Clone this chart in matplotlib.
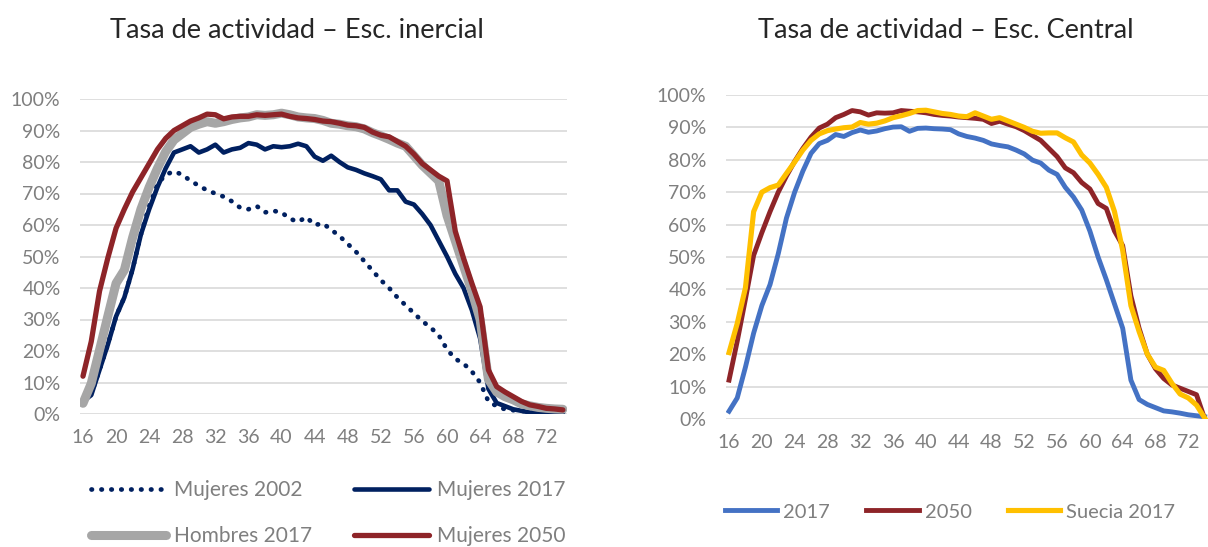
import matplotlib
matplotlib.use("Agg")
import matplotlib.pyplot as plt
import numpy as np

plt.rcParams['font.family'] = ['Lato', 'DejaVu Sans']

ages = list(range(16, 75))
age_ticks = list(range(16, 73, 4))
pct_ticks = [0, 0.1, 0.2, 0.3, 0.4, 0.5, 0.6, 0.7, 0.8, 0.9, 1.0]

# panel izquierdo - escenario inercial (%)
mujeres_2002 = [4, 6.5, 14, 22, 31, 37, 46, 57, 66, 73, 76, 77, 76, 74, 72.5, 71, 70, 69, 67.5, 65.5,
                65, 66, 64, 64.5, 64, 62, 61, 62.5, 60, 60.5, 58.5, 56.5, 54, 51.5, 48.5, 45.5, 42.5, 40, 37, 34.5,
                32, 29.5, 27.5, 25, 20.5, 17.5, 16, 13.5, 10, 4, 2.5, 1.5, 1.2, 1, 0.7, 0.5, 0.4, 0.3, 0.2]
mujeres_2017 = [4, 6, 14, 22, 31, 37, 46, 57, 65, 72, 78, 83, 84, 85, 83, 84, 85.5, 83, 84, 84.5,
                86, 85.5, 84, 85, 84.7, 85, 85.8, 85, 81.7, 80.4, 82, 80, 78.3, 77.5, 76.4, 75.5, 74.5, 71, 71, 67.4,
                66.5, 63.5, 60, 55, 50, 44.5, 40, 33, 24, 8, 3.5, 2.5, 1.5, 1, 0.5, 0.3, 0.2, 0.1, 0]
hombres_2017 = [3.4, 9.7, 20.3, 31, 41.5, 45.7, 56, 65, 72, 78, 83.3, 87, 89, 91, 92, 92.8, 92.3, 92.8, 93.5, 94,
                94.3, 95, 94.8, 95, 95.5, 95, 94.3, 94, 93.8, 93.2, 92.3, 92, 91.5, 91.2, 90.5, 89.3, 88.3, 87.2, 86, 85,
                82, 79, 76.5, 74, 63, 55, 47, 39, 30, 11, 7, 5.5, 4.5, 3.2, 2.6, 2.1, 1.8, 1.6, 1.5]
mujeres_2050 = [12, 23, 39, 49.5, 59, 65, 70.5, 75, 79.5, 84, 87.5, 90, 91.5, 93, 94, 95.2, 95, 93.7, 94.3, 94.5,
                94.5, 95, 94.8, 95, 95.2, 94.5, 94, 93.8, 93.5, 93, 92.8, 92.3, 91.7, 91.5, 91, 89.5, 88.5, 88, 86.5, 85,
                82.5, 79.5, 77.5, 75.5, 74, 58, 49.4, 41.5, 34, 14, 8.7, 7, 5.5, 4, 2.9, 2.4, 1.8, 1.6, 1.3]

# panel derecho - escenario central (%)
central_2017 = [2.4, 6.5, 16, 26.5, 35, 41.5, 51, 62, 70, 76.5, 82, 85, 86, 87.8, 87.2, 88.4, 89.2, 88.5, 88.9, 89.6,
                90.1, 90.2, 88.8, 89.7, 89.8, 89.6, 89.5, 89.3, 88, 87.2, 86.7, 86, 84.9, 84.4, 84, 83, 81.8, 79.9, 79, 76.8,
                75.5, 71.5, 68.5, 64.5, 58, 50, 43, 35.5, 28, 12, 6, 4.5, 3.5, 2.5, 2.2, 1.8, 1.3, 1, 0.7]
central_2050 = [12, 24, 37, 50.5, 57.5, 64, 70, 75, 79.5, 83.5, 87, 89.8, 91, 93, 94, 95.2, 94.8, 93.8, 94.5, 94.4,
                94.5, 95.2, 95, 94.8, 94.5, 94, 93.7, 93.5, 93.2, 93, 92.8, 92.5, 91.2, 91.9, 91, 90.2, 89, 87.5, 86, 83.5,
                81, 77.5, 76, 73, 71, 66.5, 65, 58, 53.5, 38, 28, 20, 15.5, 12.5, 10.5, 9.5, 8.5, 7.5, 0]
suecia_2017 = [20.5, 29.5, 40.5, 64, 70, 71.4, 72.2, 75.8, 79.3, 83, 86, 88, 89, 89.5, 89.9, 90.1, 91.5, 91, 91.3, 92,
               93, 93.6, 94.3, 95.2, 95.3, 94.8, 94.3, 94, 93.5, 93.3, 94.5, 93.5, 92.5, 93, 92, 91, 90, 88.8, 88.2, 88.3,
               88.3, 86.8, 85.5, 81.5, 79, 75.5, 71.5, 64, 52, 35, 27, 20, 16, 15, 11, 7.7, 6.5, 4.3, 0.3]

NAVY = '#002060'
GREY = '#A6A6A6'
RED = '#8E2428'
BLUE = '#4472C4'
YELLOW = '#FFC000'
TXT = '#7F7F7F'

fig = plt.figure(figsize=(12.08, 5.47), dpi=100)
W, H = 1208, 547


def make_axes(x0, x1, ytop, ybot):
    return fig.add_axes([x0 / W, 1 - ybot / H, (x1 - x0) / W, (ybot - ytop) / H])


def style(ax, xlim):
    ax.set_xlim(*xlim)
    ax.set_ylim(0, 1)
    ax.set_yticks(pct_ticks)
    ax.set_yticklabels([f'{int(round(t * 100))}%' for t in pct_ticks])
    ax.set_xticks(age_ticks)
    for s in ax.spines.values():
        s.set_visible(False)
    ax.tick_params(length=0, colors=TXT, labelsize=14)
    ax.tick_params(axis='y', pad=14)
    ax.tick_params(axis='x', pad=11)
    for t in pct_ticks:
        ax.axhline(t, color='#D9D9D9', lw=1.2, zorder=0)


def frac(vals):
    return np.array(vals) / 100.0


ax1 = make_axes(80, 567, 99, 414)
style(ax1, (15.64, 74.5))
l1, = ax1.plot(ages, frac(mujeres_2002), color=NAVY, lw=3.4, linestyle=(0, (0.1, 2.0)),
               dash_capstyle='round', label='Mujeres 2002')
l2, = ax1.plot(ages, frac(mujeres_2017), color=NAVY, lw=3.3, label='Mujeres 2017', solid_capstyle='round')
l3, = ax1.plot(ages, frac(hombres_2017), color=GREY, lw=6.5, label='Hombres 2017', solid_capstyle='round')
l4, = ax1.plot(ages, frac(mujeres_2050), color=RED, lw=3.8, label='Mujeres 2050', solid_capstyle='round')
ax1.legend([l1, l3, l2, l4], ['Mujeres 2002', 'Hombres 2017', 'Mujeres 2017', 'Mujeres 2050'],
           ncol=2, loc='center', bbox_to_anchor=(0.51, -0.315), frameon=False,
           fontsize=15, handlelength=3.6, handletextpad=0.4, columnspacing=2.0,
           labelspacing=1.25, labelcolor=TXT)

ax2 = make_axes(726, 1208, 95, 419)
style(ax2, (15.63, 74.4))
ax2.plot(ages, frac(central_2017), color=BLUE, lw=3.5, label='2017')
ax2.plot(ages, frac(central_2050), color=RED, lw=3.5, label='2050')
ax2.plot(ages, frac(suecia_2017), color=YELLOW, lw=3.7, label='Suecia 2017')
ax2.legend(ncol=3, loc='center', bbox_to_anchor=(0.465, -0.287), frameon=False,
           fontsize=14.5, handlelength=2.6, handletextpad=0.3, columnspacing=1.8, labelcolor=TXT)

fig.text(297 / W, 1 - 30 / H, 'Tasa de actividad \u2013 Esc. inercial', ha='center', va='center',
         fontsize=19.5, color='#262626')
fig.text(946 / W, 1 - 30 / H, 'Tasa de actividad \u2013 Esc. Central', ha='center', va='center',
         fontsize=19.5, color='#262626')

fig.savefig('out.png', dpi=100)
